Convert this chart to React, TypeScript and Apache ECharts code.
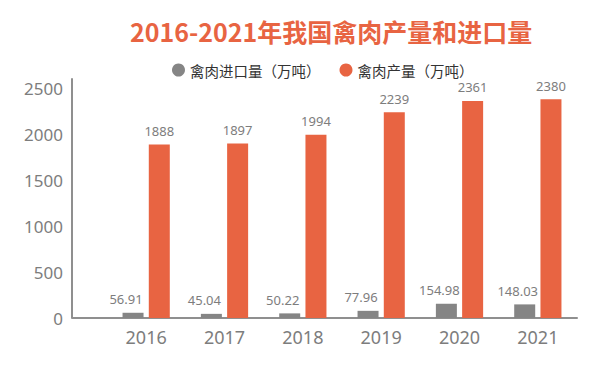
import React, { useEffect, useRef } from "react";
import * as echarts from "echarts";

const categories = ["2016", "2017", "2018", "2019", "2020", "2021"];
const importValues = [56.91, 45.04, 50.22, 77.96, 154.98, 148.03];
const productionValues = [1888, 1897, 1994, 2239, 2361, 2380];
const seriesNames = ["禽肉进口量（万吨）", "禽肉产量（万吨）"];
const titleText = "2016-2021年我国禽肉产量和进口量";

const ORANGE = "#E86442";
const GRAY = "#858585";
const AXIS = "#8f8f8f";
const LABEL = "#7d7d7d";
const FONT = "'Noto Sans', 'Open Sans', 'Noto Sans CJK SC', sans-serif";

export default function App() {
  const ref = useRef<HTMLDivElement>(null);
  useEffect(() => {
    if (!ref.current) return;
    const chart = echarts.init(ref.current, null, { renderer: "svg" });
    chart.setOption({
      animation: false,
      backgroundColor: "#ffffff",
      title: {
        text: titleText,
        left: 125,
        top: 13,
        textStyle: {
          color: ORANGE,
          fontSize: 25,
          fontWeight: 600,
          fontFamily: "'Noto Sans CJK SC', 'Noto Sans', sans-serif",
        },
      },
      legend: {
        top: 62,
        left: 172,
        padding: 0,
        icon: "circle",
        itemWidth: 13,
        itemHeight: 13,
        itemGap: 19,
        textStyle: {
          color: "#333333",
          fontSize: 14.5,
          lineHeight: 16,
          fontFamily: "'Noto Sans CJK SC', sans-serif",
        },
        data: seriesNames,
      },
      grid: { left: 107, right: 23, top: 79, bottom: 48, containLabel: false },
      xAxis: {
        type: "category",
        data: categories,
        axisLine: { lineStyle: { color: AXIS, width: 2 } },
        axisTick: { show: false },
        axisLabel: { color: LABEL, fontSize: 18, margin: 10, fontFamily: FONT },
      },
      yAxis: {
        type: "value",
        min: 0,
        max: 2600,
        interval: 500,
        offset: 35,
        axisLine: { show: true, lineStyle: { color: AXIS, width: 2 } },
        axisTick: { show: false },
        splitLine: { show: false },
        axisLabel: {
          color: LABEL,
          fontSize: 17,
          margin: 9,
          fontFamily: FONT,
          showMaxLabel: false,
          formatter: (v: number) => String(v),
        },
      },
      graphic: [
        {
          type: "line",
          shape: { x1: 72, y1: 318, x2: 108, y2: 318 },
          style: { stroke: AXIS, lineWidth: 2 },
          z: 10,
        },
      ],
      series: [
        {
          name: seriesNames[0],
          type: "bar",
          data: importValues,
          barWidth: 21,
          barGap: "25%",
          itemStyle: { color: GRAY },
          label: {
            show: true,
            position: "top",
            distance: 7,
            offset: [-7, 0],
            color: LABEL,
            fontSize: 13,
            fontFamily: FONT,
          },
        },
        {
          name: seriesNames[1],
          type: "bar",
          data: productionValues,
          barWidth: 21,
          itemStyle: { color: ORANGE },
          label: {
            show: true,
            position: "top",
            distance: 7,
            color: LABEL,
            fontSize: 13,
            fontFamily: FONT,
          },
        },
      ],
    });
    return () => chart.dispose();
  }, []);
  return (
    <div
      ref={ref}
      style={{ position: "fixed", left: 0, top: 0, width: 600, height: 366 }}
    />
  );
}
